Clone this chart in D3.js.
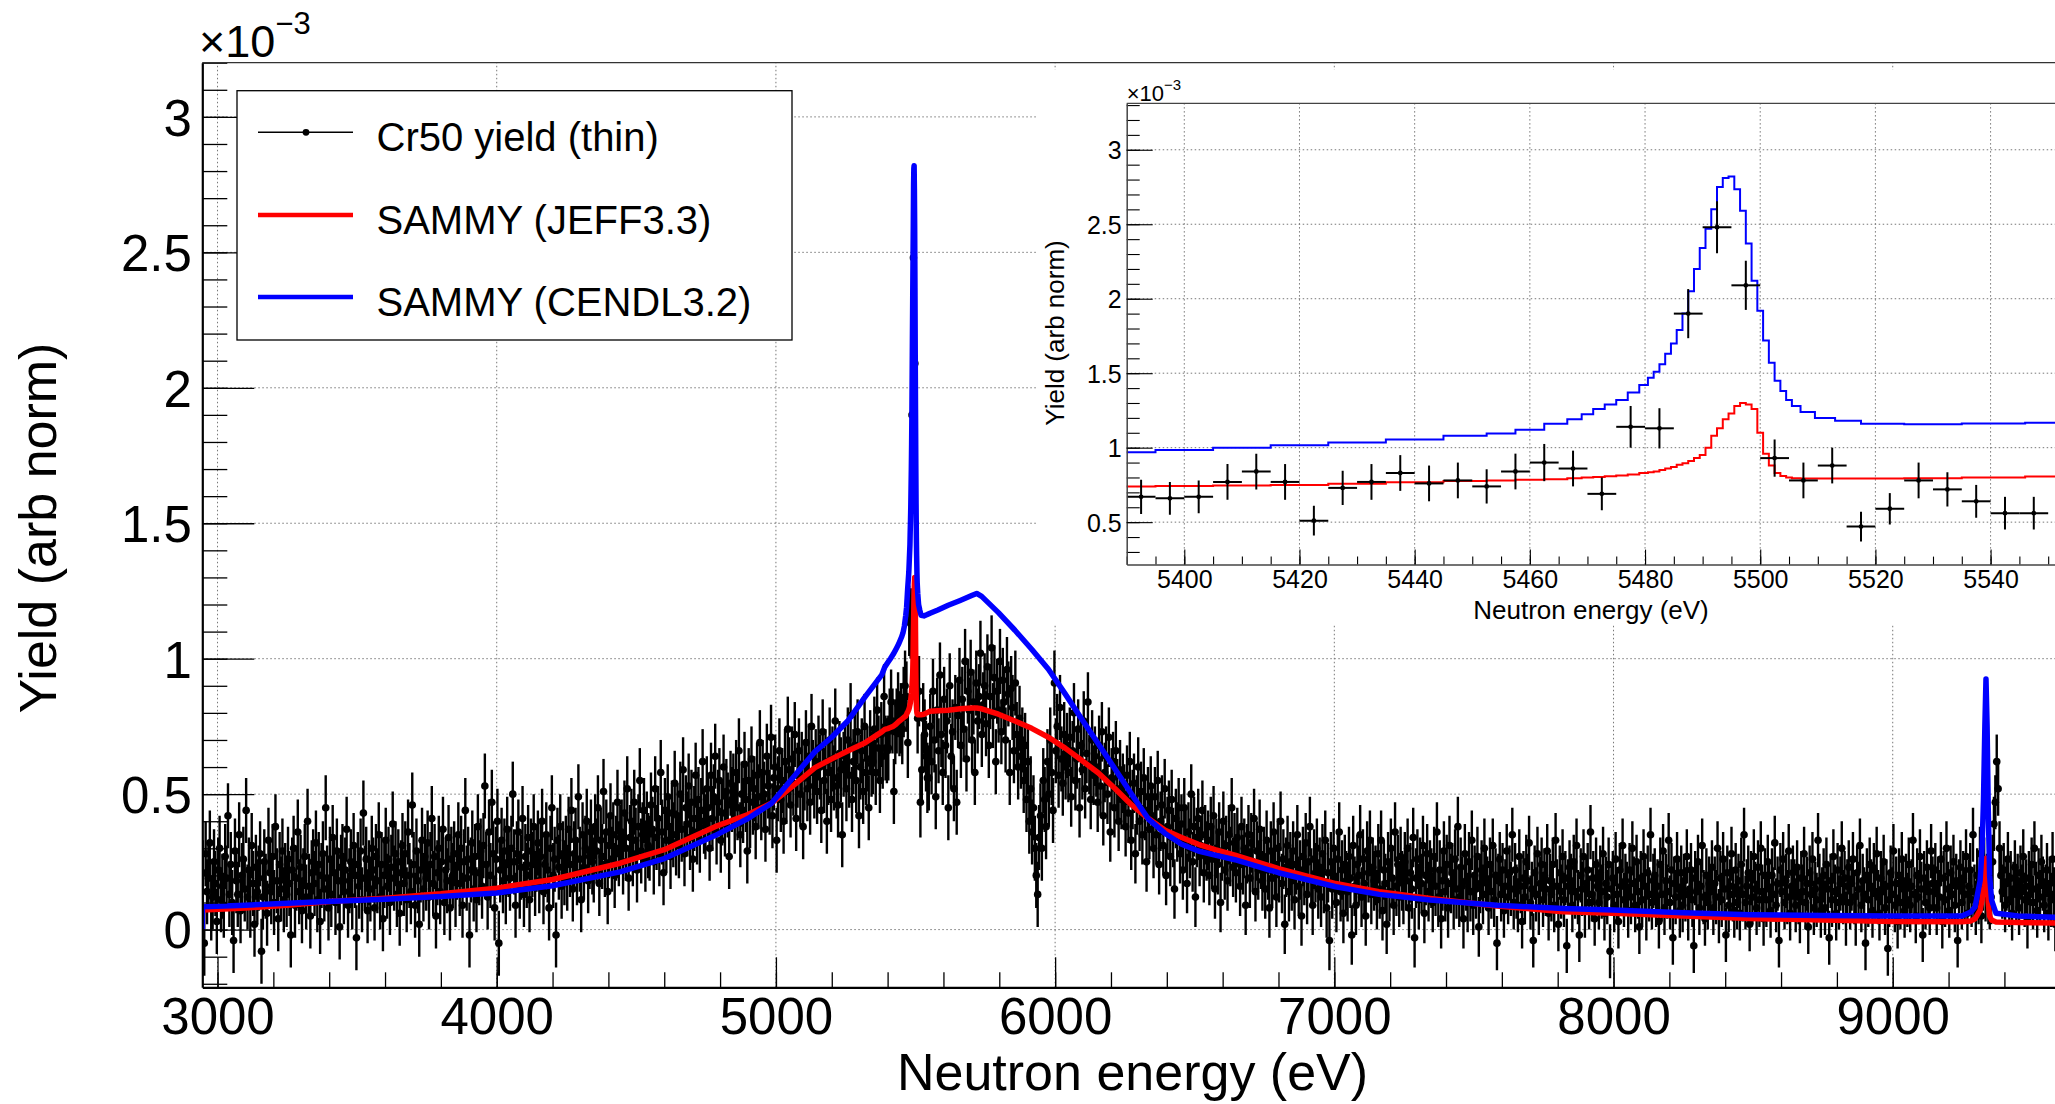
<!DOCTYPE html>
<html>
<head>
<meta charset="utf-8">
<title>Cr50 yield vs SAMMY</title>
<script src="https://cdn.jsdelivr.net/npm/d3@7"></script>
<style>
  html, body { margin: 0; padding: 0; background: #fff; overflow: hidden; }
  svg { display: block; }
</style>
</head>
<body>
<div id="chart"></div>
<script>
/* * * * * * * * * * * * * * * * *
 *   Cr50 capture yield + SAMMY    *
 * * * * * * * * * * * * * * * * */

// measured yield: 5 eV bins starting at 2947.5 eV, values in units of 1e-5 (one row = 100 eV)
const yieldStartE = 2947.5;
const yieldStepE = 5;
const yieldValues = [
  21, -5, 28, 14, 19, 32, 8, 12, 25, 17, 3, 22, 30, 11, 16, 9, 27, 19, 42, 13,
  24, 10, -4, 29, 18, 13, 35, 7, 20, 26, 15, 44, 12, 22, 9, 31, 17, 2, 23, 14,
  19, 28, -8, 12, 25, 16, 6, 33, 21, 14, 27, 10, 38, 18, 4, 24, 15, 29, 11, 20,
  13, 26, 17, -2, 22, 30, 9, 19, 36, 14, 23, 7, 18, 27, 12, 40, 16, 5, 21, 25,
  17, 32, 11, 24, 3, 20, 28, 15, 45, 19, 8, 26, 13, 34, 21, 10, 29, 18, 1, 23,
  27, 14, 22, 37, 9, 18, 25, 12, 31, 20, -3, 24, 16, 29, 11, 43, 19, 26, 7, 21,
  15, 30, 22, 8, 27, 18, 35, 12, 24, 4, 20, 33, 16, 26, 10, 23, 39, 19, 28, 13,
  25, 6, 21, 31, 17, 28, 11, 36, 20, 14, 46, 24, 9, 29, 18, 2, 22, 33, 15, 27,
  19, 32, 12, 24, 41, 17, 27, 5, 21, 30, 14, 25, 37, 10, 22, 18, 34, 8, 26, 20,
  28, 13, 23, 35, 17, 30, 9, 25, 44, 19, 26, -2, 22, 32, 15, 27, 11, 38, 21, 29,
  16, 31, 53, 24, 12, 36, 20, 47, 28, 8, 26, 40, -5, 22, 33, 18, 29, 14, 37, 24,
  19, 30, 50, 25, 9, 28, 36, 16, 23, 41, 13, 27, 20, 34, 11, 29, 24, 38, 17, 26,
  32, 18, 27, 40, 14, 24, 35, 22, 8, 30, 45, 20, 26, -2, 33, 23, 38, 16, 28, 21,
  30, 19, 37, 24, 44, 15, 28, 33, 21, 49, 26, 11, 35, 23, 30, 40, 18, 27, 36, 25,
  22, 38, 29, 45, 17, 33, 27, 51, 24, 36, 14, 31, 42, 26, 35, 20, 30, 47, 28, 34,
  36, 25, 43, 30, 52, 19, 34, 40, 28, 47, 33, 22, 38, 55, 29, 35, 44, 26, 39, 31,
  30, 46, 37, 25, 52, 34, 41, 28, 58, 36, 21, 44, 33, 49, 38, 27, 43, 35, 54, 32,
  42, 31, 50, 37, 59, 28, 45, 39, 53, 34, 47, 26, 41, 57, 36, 48, 33, 44, 62, 40,
  38, 52, 45, 30, 57, 41, 49, 64, 36, 47, 55, 33, 43, 60, 39, 51, 46, 27, 54, 48,
  53, 40, 58, 45, 66, 35, 50, 44, 61, 48, 29, 55, 42, 63, 47, 52, 38, 57, 49, 69,
  45, 58, 50, 37, 64, 53, 47, 71, 42, 56, 60, 33, 52, 66, 48, 55, 40, 62, 51, 74,
  59, 46, 63, 54, 72, 41, 57, 66, 50, 61, 38, 56, 69, 52, 64, 47, 75, 58, 53, 62,
  51, 67, 60, 44, 73, 55, 62, 40, 58, 70, 48, 63, 56, 77, 53, 46, 65, 59, 35, 61,
  64, 52, 70, 57, 79, 48, 62, 68, 55, 73, 42, 60, 66, 51, 75, 58, 63, 45, 69, 61,
  62, 74, 58, 81, 67, 55, 72, 64, 86, 67, 66, 67, 77, 84, 77, 51, 73, 77, 83, 76,
  78, 74, 84, 90, 86, 69, 114, 113, 190, 248, 209, 93, 78, 88, 47, 59, 78, 72, 64, 56,
  56, 75, 62, 88, 70, 49, 81, 66, 94, 72, 58, 85, 68, 77, 45, 90, 64, 73, 52, 82,
  47, 79, 92, 68, 85, 74, 99, 63, 88, 81, 95, 70, 84, 58, 91, 77, 86, 102, 72, 83,
  90, 76, 97, 68, 86, 104, 79, 93, 62, 88, 81, 99, 73, 92, 84, 70, 96, 87, 58, 89,
  82, 66, 91, 72, 60, 78, 64, 70, 55, 68, 48, 62, 40, 52, 36, 45, 30, 20, 13, 34,
  42, 30, 55, 48, 38, 62, 50, 70, 58, 44, 91, 66, 75, 57, 82, 63, 54, 72, 60, 68,
  58, 71, 49, 66, 80, 55, 63, 74, 45, 68, 59, 77, 52, 65, 84, 61, 48, 70, 57, 64,
  60, 47, 68, 53, 73, 42, 58, 64, 50, 71, 36, 56, 62, 45, 66, 52, 40, 59, 48, 54,
  50, 38, 57, 43, 62, 33, 48, 54, 28, 46, 60, 40, 51, 35, 56, 44, 25, 49, 37, 53,
  42, 30, 49, 35, 55, 24, 40, 46, 31, 52, 20, 38, 44, 27, 48, 34, 15, 41, 36, 45,
  28, 39, 22, 45, 33, 17, 36, 30, 50, 25, 38, 12, 34, 41, 27, 31, 44, 21, 35, 29,
  33, 20, 38, 26, 42, 15, 30, 24, 36, 10, 29, 40, 22, 31, 18, 35, 27, 45, 23, 32,
  21, 34, 27, 16, 38, 24, 30, 9, 28, 35, 19, 32, 25, 41, 14, 29, 22, 37, 26, 18,
  27, 15, 33, 22, 8, 29, 19, 36, 24, 12, 30, 21, 40, 17, 26, 2, 23, 31, 14, 25,
  18, 29, 11, 24, 35, 16, 22, 5, 27, 20, 32, 13, 25, 38, 19, 9, 26, 21, 30, 15,
  23, 12, 28, 17, 33, 8, 21, -4, 25, 15, 30, 19, 10, 26, 36, 14, 22, 6, 24, 18,
  14, 27, 19, -2, 31, 16, 9, 24, 20, 35, 12, 26, 17, 5, 29, 21, 33, 13, 23, 18,
  20, 11, 28, 15, 33, 7, 22, 17, 2, 25, 14, 30, 19, 9, 36, 16, 24, 12, 27, 18,
  13, 25, 18, 30, 8, 21, 15, 34, -3, 19, 26, 11, 23, 17, 31, 6, 20, 28, 14, 22,
  19, 10, 27, 16, 36, 12, 22, 4, 18, 29, 14, 24, 8, 31, 17, 21, 11, 26, 15, 38,
  12, 23, 16, 4, 28, 18, 10, 25, 14, 33, 9, 20, 15, 27, 1, 17, 22, 13, 30, 19,
  17, 8, 24, 14, 31, 11, 20, -5, 18, 26, 13, 22, 7, 16, 29, 12, 21, 15, 35, 10,
  22, 14, 9, 27, 16, 3, 19, 12, 25, 18, 32, 10, 15, -4, 21, 13, 28, 8, 17, 24,
  11, 20, 15, 29, 6, 18, 13, 24, 9, 33, 16, 2, 21, 14, 27, 11, 19, -6, 16, 23,
  18, 9, 25, 14, 31, 12, -2, 20, 15, 27, 7, 17, 22, 10, 36, 13, 19, 4, 24, 16,
  10, 21, 14, 28, 6, 17, 12, 24, -8, 15, 19, 9, 26, 13, 3, 22, 16, 31, 11, 18,
  15, 7, 22, 12, 30, 17, 9, 25, 14, 1, 19, 11, 27, 16, 6, 21, 13, 35, 10, 18,
  20, 11, 16, 3, 24, 13, 29, 8, 18, 14, 33, 10, 22, -3, 17, 12, 26, 15, 7, 21,
  9, 18, 13, 27, 6, 15, 22, 11, -6, 19, 14, 25, 8, 16, 31, 12, 4, 20, 10, 17,
  14, 23, 8, 17, 12, 30, 5, 19, 11, 26, 15, -2, 21, 9, 16, 28, 13, 7, 22, 10,
  18, 6, 24, 13, 35, 10, 16, 21, 2, 19, 12, 27, 15, 8, 23, 11, 30, 14, 4, 20,
  11, 25, 15, 7, 20, 13, 32, 9, 17, -4, 22, 14, 26, 10, 18, 12, 29, 6, 16, 21,
  16, 9, 23, 12, 5, 19, 14, 28, 10, 17, 1, 21, 13, 26, 8, 15, 11, 33, 18, 7,
  13, 20, 8, 24, 15, -3, 18, 11, 27, 14, 6, 22, 10, 17, 30, 12, 19, 4, 16, 23,
  10, 17, 26, 12, 4, 21, 15, 31, 9, 18, 13, -5, 20, 11, 24, 16, 7, 22, 14, 28,
  12, 6, 19, 14, 25, 8, 16, -7, 11, 21, 13, 29, 9, 17, 3, 20, 10, 26, 15, 7,
  18, 11, 24, 9, 16, 33, 13, 5, 20, 12, 27, 15, -2, 19, 10, 23, 14, 8, 29, 17,
  14, 22, 8, 17, 12, 26, 3, 19, 11, 30, 15, 7, 21, 13, 25, 9, 18, -4, 16, 23,
  10, 19, 13, 27, 6, 16, 22, 11, 35, 14, 8, 20, 12, 28, 5, 17, 24, 13, 18, 12,
  10, 12, 25, 39, 47, 62, 52, 30, 20, 14, 22, 9, 17, 26, 11, 19, 6, 15, 23, 13,
  18, 8, 21, 14, 27, 11, 16, 3, 19, 13, 24, 10, 30, 15, 7, 20, 12, 25, 17, 9,
  14, 22, 6, 17, 11, 26, 13, 2, 19, 15, 24, 9, 16, 12
];
// statistical error per 100 eV row (units of 1e-5)
const yieldErrors = [
  12, 12, 12, 12, 12, 12, 12, 12, 12, 12,
  12, 12, 12, 12, 12, 12, 12, 12, 12, 12,
  12, 12, 12, 12, 12, 13, 12, 12, 12, 12,
  12, 11, 11, 11, 11, 11, 11, 11, 11, 11,
  11, 11, 11, 11, 11, 11, 10, 10, 10, 10,
  10, 10, 10, 10, 10, 10, 10, 10, 10, 10,
  10, 10, 10, 10, 10, 10, 10
];
// errors of the 32 bins shown in the zoomed inset (5392.5 ... 5547.5 eV), units of 1e-5
const insetErrors = [
  11.5, 11, 11, 12, 12, 12, 10, 11.5, 12, 12, 12, 12, 11.5, 12, 12.5, 12,
  11, 14, 13.5, 16.5, 17.5, 16.5, 12.5, 12, 12, 10, 10.5, 12, 11.5, 11, 11, 11
];

// SAMMY calculations, energy in eV, yield in units of 1e-3
const modelEnergy = [
  2945.5, 2946, 3100, 3250, 3414, 3600, 3800, 4000, 4200, 4442, 4600, 4782, 4900, 4985, 5060, 5140, 5200, 5259, 5320, 5379,
  5390, 5400, 5410, 5420, 5430, 5440, 5450, 5455, 5460, 5465, 5468, 5470, 5472, 5474, 5476, 5478, 5480, 5481, 5482, 5483,
  5484, 5485, 5486, 5487, 5488, 5489, 5490, 5491, 5492, 5493, 5494, 5495, 5496, 5497, 5498, 5499, 5500, 5501, 5502, 5503,
  5504, 5505, 5506, 5508, 5511, 5515, 5520, 5530, 5540, 5552,
  5580, 5617, 5660, 5701, 5719, 5737, 5797, 5856, 5916, 5976, 6036, 6095, 6155, 6215, 6274, 6334, 6394, 6453, 6513, 6573,
  6644, 6800, 7005, 7160, 7343, 7582, 7820, 8000, 8250, 8489, 8750, 9000, 9247, 9280, 9295, 9313, 9320, 9325, 9330, 9334,
  9338, 9342, 9347, 9354, 9370, 9450, 9615
];
const jeffYield = [
  0, 0.072, 0.08, 0.09, 0.105, 0.116, 0.132, 0.153, 0.185, 0.245, 0.295, 0.38, 0.425, 0.467, 0.53, 0.598, 0.63, 0.66, 0.69, 0.73,
  0.739, 0.742, 0.746, 0.75, 0.758, 0.768, 0.776, 0.78, 0.785, 0.788, 0.795, 0.8, 0.803, 0.808, 0.813, 0.82, 0.83, 0.835, 0.84, 0.85,
  0.86, 0.87, 0.885, 0.895, 0.91, 0.93, 0.95, 1.0, 1.08, 1.13, 1.19, 1.23, 1.28, 1.3, 1.29, 1.26, 1.1, 0.96, 0.88, 0.83,
  0.81, 0.8, 0.795, 0.793, 0.793, 0.793, 0.793, 0.795, 0.8, 0.806,
  0.808, 0.81, 0.815, 0.818, 0.818, 0.815, 0.795, 0.77, 0.743, 0.71, 0.67, 0.625, 0.578, 0.52, 0.46, 0.41, 0.367, 0.34, 0.315, 0.295,
  0.275, 0.225, 0.17, 0.14, 0.115, 0.087, 0.066, 0.06, 0.05, 0.041, 0.035, 0.03, 0.029, 0.032, 0.04, 0.072, 0.11, 0.158, 0.22, 0.263,
  0.2, 0.1, 0.05, 0.035, 0.028, 0.026, 0.024
];
const cendlYield = [
  0, 0.084, 0.09, 0.097, 0.105, 0.112, 0.122, 0.135, 0.162, 0.213, 0.262, 0.347, 0.41, 0.467, 0.56, 0.657, 0.71, 0.772, 0.86, 0.94,
  0.969, 0.985, 1.0, 1.016, 1.035, 1.055, 1.08, 1.095, 1.12, 1.16, 1.19, 1.225, 1.26, 1.29, 1.32, 1.37, 1.42, 1.47, 1.51, 1.56,
  1.63, 1.7, 1.79, 1.9, 2.05, 2.2, 2.34, 2.47, 2.6, 2.75, 2.81, 2.82, 2.735, 2.59, 2.37, 2.12, 1.92, 1.72, 1.57, 1.45,
  1.38, 1.32, 1.28, 1.24, 1.2, 1.18, 1.16, 1.158, 1.162, 1.168,
  1.18, 1.197, 1.215, 1.233, 1.241, 1.23, 1.17, 1.105, 1.035, 0.961, 0.87, 0.777, 0.685, 0.592, 0.5, 0.408, 0.355, 0.315, 0.29, 0.275,
  0.258, 0.21, 0.158, 0.13, 0.109, 0.09, 0.078, 0.072, 0.062, 0.055, 0.052, 0.05, 0.05, 0.065, 0.084, 0.18, 0.3, 0.478, 0.75, 0.925,
  0.75, 0.45, 0.2, 0.109, 0.06, 0.05, 0.045
];

// axis ranges and ticks
const mainXRange = [2945.5, 9617];
const mainYRange = [-0.213, 3.2];
const mainXTicks = [3000, 4000, 5000, 6000, 7000, 8000, 9000];
const mainYTicks = [0, 0.5, 1, 1.5, 2, 2.5, 3];
const insetXRange = [5390, 5552];
const insetYRange = [0.215, 3.312];
const insetXTicks = [5400, 5420, 5440, 5460, 5480, 5500, 5520, 5540];
const insetYTicks = [0.5, 1, 1.5, 2, 2.5, 3];

const legendLabels = ["Cr50 yield (thin)", "SAMMY (JEFF3.3)", "SAMMY (CENDL3.2)"];
const jeffColor = "#ff0000";
const cendlColor = "#0000ff";
const font = '"Liberation Sans", Arial, Helvetica, sans-serif';

// ---- wrangle ----
let measured = yieldValues.map((v, i) => ({
  e: yieldStartE + i * yieldStepE,
  v: v / 100,
  err: yieldErrors[Math.floor(i / 20)] / 100
}));
let models = modelEnergy.map((e, i) => ({ e: e, jeff: jeffYield[i], cendl: cendlYield[i] }));
let insetPoints = measured
  .filter((d) => d.e > insetXRange[0] && d.e < insetXRange[1])
  .map((d, i) => ({ e: d.e, v: d.v, err: insetErrors[i] / 100 }));

// ---- svg ----
const svg = d3.select("#chart").append("svg").attr("width", 2055).attr("height", 1104).style("font-family", font);
svg.append("rect").attr("width", 2055).attr("height", 1104).attr("fill", "#fff");
const defs = svg.append("defs");

function gridLines(g, xs, ys, xt, yt) {
  let [x0, x1] = xs.range();
  let [y0, y1] = ys.range();
  g.selectAll("line.vg").data(xt).join("line").attr("class", "vg")
    .attr("x1", (d) => xs(d)).attr("x2", (d) => xs(d)).attr("y1", y0).attr("y2", y1);
  g.selectAll("line.hg").data(yt).join("line").attr("class", "hg")
    .attr("x1", x0).attr("x2", x1).attr("y1", (d) => ys(d)).attr("y2", (d) => ys(d));
  g.attr("stroke", "#777").attr("stroke-width", 1).attr("stroke-dasharray", "1.5,2.5");
}

function drawPoints(g, data, xs, ys, r, halfBin, lw) {
  let pts = g.selectAll("g.pt").data(data).join("g").attr("class", "pt");
  pts.append("line")
    .attr("x1", (d) => xs(d.e)).attr("x2", (d) => xs(d.e))
    .attr("y1", (d) => ys(d.v - d.err)).attr("y2", (d) => ys(d.v + d.err))
    .attr("stroke", "#000").attr("stroke-width", lw);
  if (halfBin) {
    pts.append("line")
      .attr("x1", (d) => xs(d.e - halfBin)).attr("x2", (d) => xs(d.e + halfBin))
      .attr("y1", (d) => ys(d.v)).attr("y2", (d) => ys(d.v))
      .attr("stroke", "#000").attr("stroke-width", lw);
  }
  pts.append("circle").attr("cx", (d) => xs(d.e)).attr("cy", (d) => ys(d.v)).attr("r", r).attr("fill", "#000");
}

// d3 puts font attributes on the group it creates, so override them there
function styleAxis(g, size, lw) {
  g.selectAll("g").attr("font-family", font).attr("font-size", size);
  g.attr("color", "#000");
  g.selectAll(".tick line").attr("stroke-width", lw);
  g.selectAll("text").attr("fill", "#000").attr("font-size", size);
}

/* ---------- main pad ---------- */
const main = { left: 202.3, right: 2065, top: 62.7, bottom: 987.3 };
const x = d3.scaleLinear().domain(mainXRange).range([main.left, main.right]);
const y = d3.scaleLinear().domain(mainYRange).range([main.bottom, main.top]);

defs.append("clipPath").attr("id", "clip-main").append("rect")
  .attr("x", main.left).attr("y", main.top).attr("width", main.right - main.left).attr("height", main.bottom - main.top);

gridLines(svg.append("g").attr("class", "grid"), x, y, mainXTicks, mainYTicks);

const mainPlot = svg.append("g").attr("clip-path", "url(#clip-main)");
drawPoints(mainPlot.append("g").attr("class", "data"), measured, x, y, 3.8, 0, 2.4);

const lineJeff = d3.line().x((d) => x(d.e)).y((d) => y(d.jeff));
const lineCendl = d3.line().x((d) => x(d.e)).y((d) => y(d.cendl));
mainPlot.append("path").datum(models).attr("d", lineJeff)
  .attr("fill", "none").attr("stroke", jeffColor).attr("stroke-width", 5.5).attr("stroke-linejoin", "round");
mainPlot.append("path").datum(models).attr("d", lineCendl)
  .attr("fill", "none").attr("stroke", cendlColor).attr("stroke-width", 5.5).attr("stroke-linejoin", "round");

// axes
const xAxisG = svg.append("g").attr("transform", `translate(0, ${main.bottom})`);
xAxisG.append("g").call(d3.axisBottom(x).tickValues(d3.range(3000, 9601, 200)).tickSize(-15).tickFormat(""))
  .call((g) => g.select(".domain").remove());
const xMajor = xAxisG.append("g")
  .call(d3.axisBottom(x).tickValues(mainXTicks).tickSize(-30).tickSizeOuter(0).tickPadding(10).tickFormat(d3.format("d")));
xMajor.select(".domain").attr("stroke-width", 2.2);
styleAxis(xAxisG, 51, 1.3);

const yAxisG = svg.append("g").attr("transform", `translate(${main.left}, 0)`);
yAxisG.append("g").call(d3.axisLeft(y).tickValues(d3.range(-2, 33).map((k) => k / 10)).tickSize(-25).tickFormat(""))
  .call((g) => g.select(".domain").remove());
const yMajor = yAxisG.append("g")
  .call(d3.axisLeft(y).tickValues(mainYTicks).tickSize(-52).tickSizeOuter(0).tickPadding(10.5).tickFormat(d3.format("~g")));
yMajor.select(".domain").attr("stroke-width", 2.2);
styleAxis(yAxisG, 51, 1.3);
yMajor.selectAll("text").attr("dy", "0.36em");

// top frame line
svg.append("line").attr("x1", main.left).attr("x2", main.right).attr("y1", main.top).attr("y2", main.top)
  .attr("stroke", "#333").attr("stroke-width", 1.2);

// exponent
svg.append("text").attr("x", 199).attr("y", 57).attr("font-size", 45).text("\u00d710")
  .append("tspan").attr("dy", -23).attr("font-size", 31).text("\u22123");

// axis titles
svg.append("text").attr("x", 1132.5).attr("y", 1090).attr("text-anchor", "middle").attr("font-size", 52)
  .text("Neutron energy (eV)");
svg.append("text").attr("transform", "translate(56, 528) rotate(-90)").attr("text-anchor", "middle").attr("font-size", 52)
  .text("Yield (arb norm)");

/* ---------- legend ---------- */
const legend = svg.append("g").attr("class", "legend");
legend.append("rect").attr("x", 237).attr("y", 90.7).attr("width", 555).attr("height", 249.3)
  .attr("fill", "#fff").attr("stroke", "#000").attr("stroke-width", 1.3);
const rowY = [132.3, 215, 297];
const rowStroke = ["#000", jeffColor, cendlColor];
const rowWidth = [1.5, 4.5, 4.5];
legend.selectAll("line.key").data(legendLabels).join("line").attr("class", "key")
  .attr("x1", 258).attr("x2", 353).attr("y1", (d, i) => rowY[i]).attr("y2", (d, i) => rowY[i])
  .attr("stroke", (d, i) => rowStroke[i]).attr("stroke-width", (d, i) => rowWidth[i]);
legend.append("circle").attr("cx", 306).attr("cy", rowY[0]).attr("r", 3.4).attr("fill", "#000");
legend.selectAll("text").data(legendLabels).join("text")
  .attr("x", 376.5).attr("y", (d, i) => rowY[i] + 18.5).attr("font-size", 40).text((d) => d);

/* ---------- inset pad ---------- */
svg.append("rect").attr("x", 1038).attr("y", 70).attr("width", 1100).attr("height", 555).attr("fill", "#fff");

const inset = { left: 1126.7, right: 2059.7, top: 103.3, bottom: 564.6 };
const xi = d3.scaleLinear().domain(insetXRange).range([inset.left, inset.right]);
const yi = d3.scaleLinear().domain(insetYRange).range([inset.bottom, inset.top]);

defs.append("clipPath").attr("id", "clip-inset").append("rect")
  .attr("x", inset.left).attr("y", inset.top).attr("width", inset.right - inset.left).attr("height", inset.bottom - inset.top);

gridLines(svg.append("g").attr("class", "grid-inset"), xi, yi, insetXTicks, insetYTicks);

const insetPlot = svg.append("g").attr("clip-path", "url(#clip-inset)");
let insetModels = models.filter((d) => d.e >= 5379 && d.e <= 5580);
insetPlot.append("path").datum(insetModels)
  .attr("d", d3.line().curve(d3.curveStep).x((d) => xi(d.e)).y((d) => yi(d.jeff)))
  .attr("fill", "none").attr("stroke", jeffColor).attr("stroke-width", 2);
insetPlot.append("path").datum(insetModels)
  .attr("d", d3.line().curve(d3.curveStep).x((d) => xi(d.e)).y((d) => yi(d.cendl)))
  .attr("fill", "none").attr("stroke", cendlColor).attr("stroke-width", 2);
drawPoints(insetPlot.append("g").attr("class", "data-inset"), insetPoints, xi, yi, 2.4, yieldStepE / 2, 2);

const xiAxisG = svg.append("g").attr("transform", `translate(0, ${inset.bottom})`);
xiAxisG.append("g").call(d3.axisBottom(xi).tickValues(d3.range(5390, 5553, 5)).tickSize(-8).tickFormat(""))
  .call((g) => g.select(".domain").remove());
const xiMajor = xiAxisG.append("g")
  .call(d3.axisBottom(xi).tickValues(insetXTicks).tickSize(-15).tickSizeOuter(0).tickPadding(6).tickFormat(d3.format("d")));
xiMajor.select(".domain").attr("stroke-width", 1.5).attr("stroke", "#444");
styleAxis(xiAxisG, 25, 1.1);

const yiAxisG = svg.append("g").attr("transform", `translate(${inset.left}, 0)`);
yiAxisG.append("g").call(d3.axisLeft(yi).tickValues(d3.range(3, 34).map((k) => k / 10)).tickSize(-13).tickFormat(""))
  .call((g) => g.select(".domain").remove());
const yiMajor = yiAxisG.append("g")
  .call(d3.axisLeft(yi).tickValues(insetYTicks).tickSize(-26).tickSizeOuter(0).tickPadding(5).tickFormat(d3.format("~g")));
yiMajor.select(".domain").attr("stroke-width", 1.5).attr("stroke", "#444");
styleAxis(yiAxisG, 25, 1.1);
yiMajor.selectAll("text").attr("dy", "0.36em");

svg.append("line").attr("x1", inset.left).attr("x2", inset.right).attr("y1", inset.top).attr("y2", inset.top)
  .attr("stroke", "#444").attr("stroke-width", 1.2);

svg.append("text").attr("x", 1126.7).attr("y", 100.7).attr("font-size", 22).text("\u00d710")
  .append("tspan").attr("dy", -11).attr("font-size", 15).text("\u22123");

svg.append("text").attr("x", 1591).attr("y", 619).attr("text-anchor", "middle").attr("font-size", 26)
  .text("Neutron energy (eV)");
svg.append("text").attr("transform", "translate(1064, 333) rotate(-90)").attr("text-anchor", "middle").attr("font-size", 26)
  .text("Yield (arb norm)");
</script>
</body>
</html>
